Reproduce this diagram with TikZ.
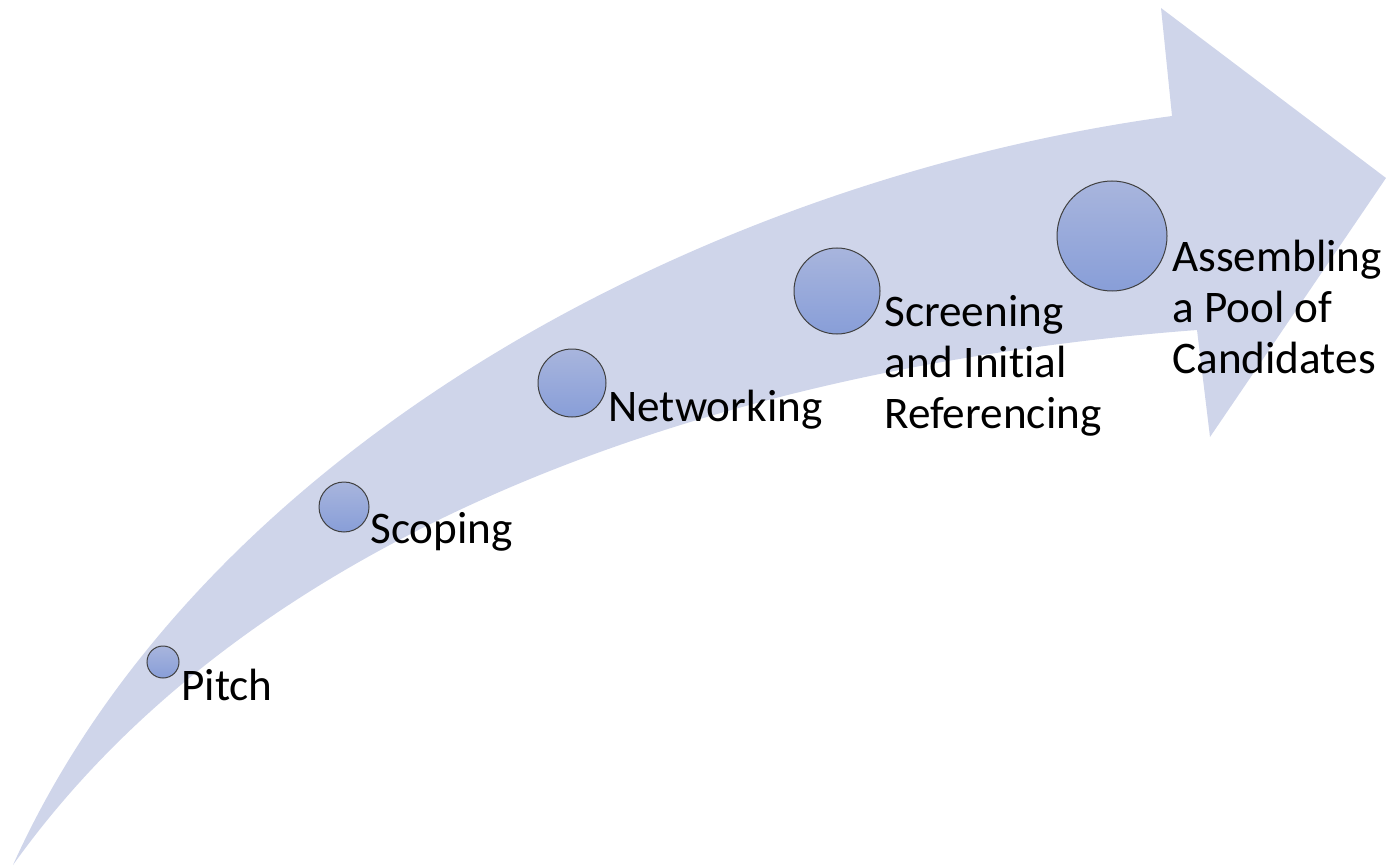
\documentclass[tikz,border=0pt]{standalone}
\usepackage{fontspec}
\setmainfont{Carlito}[Ligatures=NoCommon]
\usepackage{tikz}
\usetikzlibrary{positioning}
\definecolor{bandblue}{RGB}{207,213,234}
\definecolor{steptop}{RGB}{168,181,221}
\definecolor{stepbot}{RGB}{136,158,216}
\definecolor{stepline}{RGB}{64,64,64}

\begin{document}
\begin{tikzpicture}[x=0.5pt, y=-0.5pt,
  stepdot/.style={circle, draw=stepline, line width=0.5pt, top color=steptop, bottom color=stepbot, inner sep=0pt},
  steplabel/.style={anchor=base west, inner sep=0pt, align=left, font=\fontsize{22.6}{25.5}\selectfont}]
%
\useasboundingbox (0,0) rectangle (1386,866);

% CURVED ARROW
\fill [bandblue] (13,865) .. controls (200,450) and (700,180) .. (1172,116)
  -- (1161,8) -- (1386,178) -- (1210,437) -- (1197,330)
  .. controls (747,364) and (263,515) .. (13,865) -- cycle;

% STEPS
\node [stepdot, minimum size=16pt] (pitch) at (163,662) {};
\node [stepdot, minimum size=25pt] (scoping) at (344,507) {};
\node [stepdot, minimum size=34pt] (networking) at (572,383) {};
\node [stepdot, minimum size=43pt] (screening) at (837,291) {};
\node [stepdot, minimum size=55pt] (pool) at (1112,236) {};

% LABELS (base = last line)
\node [steplabel] (pitchtxt) at (181,700) {Pitch};
\node [steplabel] (scopingtxt) at (370,543) {Scoping};
\node [steplabel] (networkingtxt) at (608,421) {Networking};
\node [steplabel] (screeningtxt) at (884,428) {Screening\\and Initial\\Referencing};
\node [steplabel] (pooltxt) at (1172,373) {Assembling\\a Pool of\\Candidates};
\end{tikzpicture}
\end{document}
